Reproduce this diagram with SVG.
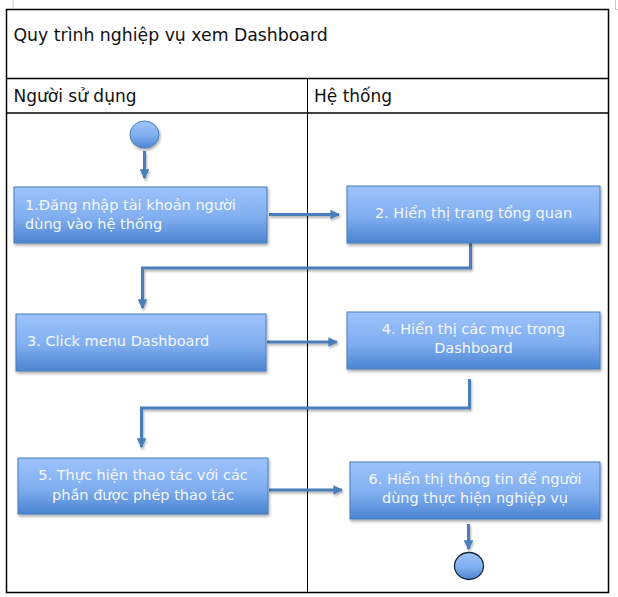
<svg xmlns="http://www.w3.org/2000/svg" width="618" height="597" viewBox="0 0 618 597">
<style>
.frame{fill:none;stroke:#000;stroke-width:1.5}
.div{stroke:#000;stroke-width:1}
.hdr{font-family:"DejaVu Sans",sans-serif;font-size:17px;fill:#111}
.box{fill:url(#g);stroke:#4a7ebb;stroke-width:1;filter:url(#sh)}
.bt{font-family:"DejaVu Sans",sans-serif;font-size:14.5px;fill:#f4f7fc}
.c{text-anchor:middle}
.con{fill:none;stroke:#4a7ebb;stroke-width:3}
.mark{stroke:#c8c8c8;stroke-width:1;fill:none}
</style>
<defs>
<linearGradient id="g" x1="0" y1="0" x2="0" y2="1">
<stop offset="0" stop-color="#9dc3fb"/>
<stop offset="0.55" stop-color="#80aef0"/>
<stop offset="1" stop-color="#4a84d0"/>
</linearGradient>
<filter id="sh" x="-5%" y="-10%" width="115%" height="130%">
<feGaussianBlur in="SourceAlpha" stdDeviation="1.5"/>
<feOffset dx="1" dy="2" result="b"/>
<feComponentTransfer><feFuncA type="linear" slope="0.35"/></feComponentTransfer>
<feMerge><feMergeNode/><feMergeNode in="SourceGraphic"/></feMerge>
</filter>
<filter id="sh2" filterUnits="userSpaceOnUse" x="0" y="0" width="618" height="597">
<feGaussianBlur in="SourceAlpha" stdDeviation="1"/>
<feOffset dx="1" dy="1.5"/>
<feComponentTransfer><feFuncA type="linear" slope="0.3"/></feComponentTransfer>
<feMerge><feMergeNode/><feMergeNode in="SourceGraphic"/></feMerge>
</filter>
<marker id="ah" viewBox="0 0 10 10" refX="9" refY="5" markerWidth="3.2" markerHeight="3.2" orient="auto" markerUnits="strokeWidth">
<path d="M0,0 L10,5 L0,10 z" fill="#4a7ebb"/>
</marker>
</defs>
<rect width="618" height="597" fill="#fff"/>
<path class="mark" d="M13,0 V8 M615.5,0 V9.5 H618"/>
<g id="frame">
<rect class="frame" x="6.5" y="9.5" width="602" height="583"/>
<line class="div" x1="6.5" y1="78.5" x2="608.5" y2="78.5" style="stroke-width:1.5"/>
<line class="div" x1="6.5" y1="113" x2="608.5" y2="113" style="stroke-width:1.5"/>
<line class="div" x1="307.5" y1="78.5" x2="307.5" y2="592.5"/>
<text class="hdr" x="13.5" y="41" style="font-size:17.3px">Quy trình nghiệp vụ xem Dashboard</text>
<text class="hdr" x="13.5" y="102">Người sử dụng</text>
<text class="hdr" x="314" y="102">Hệ thống</text>
</g>
<g id="connectors" filter="url(#sh2)">
<path class="con" d="M144.5,151 V178" marker-end="url(#ah)"/>
<path class="con" d="M269,214.5 H339" marker-end="url(#ah)"/>
<path class="con" d="M470.5,243 V268 H142.5 V308" marker-end="url(#ah)"/>
<path class="con" d="M267,342 H337" marker-end="url(#ah)"/>
<path class="con" d="M469.5,379 V408 H141.5 V447" marker-end="url(#ah)"/>
<path class="con" d="M269,490 H342" marker-end="url(#ah)"/>
<path class="con" d="M468.5,524 V549" marker-end="url(#ah)"/>
</g>
<g id="start">
<ellipse cx="144.5" cy="134.5" rx="14.5" ry="13.5" fill="url(#g)" stroke="#4a7ebb" stroke-width="1" filter="url(#sh)"/>
</g>
<g id="n1">
<rect class="box" x="14" y="187" width="253" height="56"/>
<text class="bt" x="25" y="210">1.Đăng nhập tài khoản người</text>
<text class="bt" x="25" y="229">dùng vào hệ thống</text>
</g>
<g id="n2">
<rect class="box" x="347" y="186" width="253" height="57"/>
<text class="bt c" x="473.5" y="218">2. Hiển thị trang tổng quan</text>
</g>
<g id="n3">
<rect class="box" x="16" y="314" width="250" height="57"/>
<text class="bt" x="27" y="346">3. Click menu Dashboard</text>
</g>
<g id="n4">
<rect class="box" x="347" y="312" width="253" height="57"/>
<text class="bt c" x="473.5" y="334">4. Hiển thị các mục trong</text>
<text class="bt c" x="473.5" y="353">Dashboard</text>
</g>
<g id="n5">
<rect class="box" x="18" y="458" width="250" height="56"/>
<text class="bt c" x="143" y="480">5. Thực hiện thao tác với các</text>
<text class="bt c" x="143" y="500">phần được phép thao tác</text>
</g>
<g id="n6">
<rect class="box" x="350" y="462" width="250" height="57"/>
<text class="bt c" x="475" y="484">6. Hiển thị thông tin để người</text>
<text class="bt c" x="475" y="503">dùng thực hiện nghiệp vụ</text>
</g>
<g id="end">
<ellipse cx="469" cy="566" rx="14.5" ry="13.5" fill="url(#g)" stroke="#1c2a3a" stroke-width="1.3"/>
</g>
</svg>
